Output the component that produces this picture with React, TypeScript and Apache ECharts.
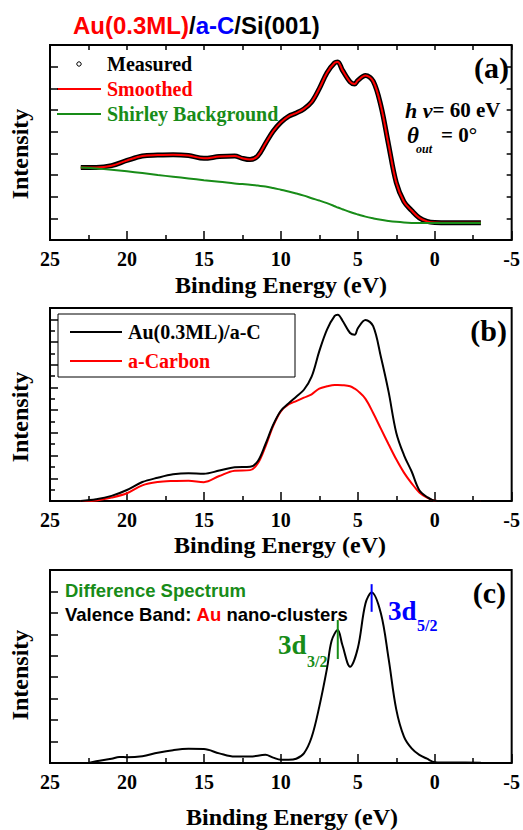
import React, { useEffect, useRef } from "react";
import * as echarts from "echarts";

// ---------- Panel (a): Au(0.3ML)/a-C valence band ----------
const energyA = [23, 22, 21, 20, 19, 18, 17, 16, 15, 14, 13, 12.5, 12, 11.5, 11, 10.5, 10, 9.5, 9, 8.5, 8, 7.5, 7, 6.5, 6.3, 6, 5.5, 5.2, 5, 4.5, 4, 3.5, 3, 2.5, 2, 1.5, 1, 0.5, 0, -1, -2, -3];
const measuredA = [3.35, 3.35, 3.43, 3.67, 3.88, 3.92, 3.94, 3.9, 3.77, 3.85, 3.88, 3.77, 3.71, 3.88, 4.45, 5.02, 5.43, 5.71, 5.86, 6.05, 6.37, 6.99, 7.72, 8.18, 8.22, 7.84, 7.3, 7.2, 7.36, 7.59, 7.33, 6.2, 4.4, 2.65, 1.77, 1.36, 1.02, 0.86, 0.81, 0.8, 0.8, 0.8];
const smoothedA = [3.35, 3.35, 3.43, 3.67, 3.88, 3.92, 3.94, 3.9, 3.77, 3.85, 3.88, 3.77, 3.71, 3.88, 4.45, 5.02, 5.43, 5.71, 5.86, 6.05, 6.37, 6.99, 7.72, 8.18, 8.22, 7.84, 7.3, 7.2, 7.36, 7.59, 7.33, 6.2, 4.4, 2.65, 1.77, 1.36, 1.02, 0.86, 0.81, 0.8, 0.8, 0.8];
const shirleyA = [3.35, 3.3, 3.24, 3.17, 3.09, 3.0, 2.92, 2.84, 2.76, 2.69, 2.61, 2.58, 2.55, 2.51, 2.47, 2.4, 2.32, 2.24, 2.15, 2.05, 1.93, 1.82, 1.7, 1.56, 1.5, 1.42, 1.29, 1.22, 1.18, 1.08, 1.0, 0.93, 0.88, 0.84, 0.81, 0.79, 0.78, 0.78, 0.78, 0.78, 0.78, 0.78];

// ---------- Panel (b): Au(0.3ML)/a-C vs a-Carbon ----------
const energyB = [23, 22, 21, 20, 19, 18, 17, 16, 15, 14, 13, 12, 11.5, 11, 10.5, 10, 9.5, 9, 8.5, 8, 7.5, 7, 6.5, 6.3, 6, 5.5, 5.2, 5, 4.5, 4, 3.5, 3, 2.5, 2, 1.5, 1, 0.5, 0, -1, -2, -3];
const auOnCarbonB = [0, 0.15, 0.45, 0.97, 1.67, 2.05, 2.35, 2.45, 2.4, 2.68, 2.98, 3.02, 3.5, 5.0, 6.7, 7.95, 8.6, 9.19, 9.8, 10.95, 13.2, 15.1, 16.3, 16.4, 15.9, 14.8, 14.65, 15.2, 15.95, 15.4, 12.7, 9.63, 6.02, 4.05, 2.6, 0.95, 0.35, 0.03, 0, 0, 0];
const aCarbonB = [0, 0.05, 0.3, 0.68, 1.38, 1.67, 1.76, 1.78, 1.66, 2.2, 2.67, 2.72, 3.3, 4.8, 6.6, 7.9, 8.5, 8.8, 9.1, 9.4, 9.9, 10.1, 10.22, 10.22, 10.2, 10.1, 9.9, 9.7, 9.0, 7.75, 6.37, 5.0, 3.67, 2.5, 1.56, 0.75, 0.3, 0.03, 0, 0, 0];

// ---------- Panel (c): difference spectrum ----------
const energyC = [22.5, 22, 21, 20.5, 20, 19, 18, 17, 16, 15, 14, 13, 12, 11, 10.5, 10, 9.5, 9, 8.5, 8, 7.5, 7, 6.7, 6.3, 6, 5.5, 5, 4.5, 4.1, 3.5, 3, 2.5, 2, 1.5, 1, 0.5, 0, -1, -2, -3];
const differenceC = [0, 0.08, 0.2, 0.28, 0.27, 0.32, 0.48, 0.6, 0.66, 0.65, 0.45, 0.3, 0.3, 0.38, 0.25, 0.15, 0.15, 0.2, 0.45, 1.2, 2.63, 4.41, 5.7, 6.2, 5.5, 4.49, 5.35, 7.44, 7.95, 6.98, 4.88, 2.5, 1.23, 0.68, 0.38, 0.2, 0.04, 0.02, 0.02, 0.01];
const peak32 = [[6.3, 4.85], [6.3, 6.67]];
const peak52 = [[4.1, 7.05], [4.1, 8.34]];

const xTicks = { min: -5, max: 25, interval: 5 };

const SERIF = '"Liberation Serif", "Times New Roman", serif';
const SANS = '"Liberation Sans", Arial, sans-serif';
const GREEN = "#188c18";
const RED = "#ff0000";
const BLUE = "#0000ff";

const zip = (xs: number[], ys: number[]) => xs.map((x, i) => [x, ys[i]]);

const txt = (text: string, x: number, y: number, font: string, fill: string, align = "left", extra: any = {}) => ({
  type: "text",
  x,
  y,
  silent: true,
  ...extra,
  style: { text, font, fill, align, textAlign: align, verticalAlign: "middle", textVerticalAlign: "middle" },
});

export default function App() {
  const ref = useRef<HTMLDivElement>(null);
  useEffect(() => {
    const chart = echarts.init(ref.current as HTMLDivElement, null, { renderer: "svg" });
    const gridBoxes = [
      { left: 50, top: 45, width: 462, height: 195 },
      { left: 50, top: 308, width: 462, height: 193 },
      { left: 50, top: 570, width: 462, height: 193 },
    ];
    const grid = gridBoxes.map((g) => ({ ...g, show: true, borderColor: "#000", borderWidth: 2, backgroundColor: "transparent" }));
    const tickStyle = { color: "#000", width: 1.5 };
    const xAxisBase = (gridIndex: number, extra: any = {}) => ({
      type: "value",
      gridIndex,
      ...xTicks,
      inverse: true,
      axisLine: { show: false, onZero: false },
      axisTick: { show: true, inside: true, length: 9, lineStyle: tickStyle },
      minorTick: { show: true, splitNumber: 2, length: 5, lineStyle: tickStyle },
      splitLine: { show: false },
      minorSplitLine: { show: false },
      axisLabel: {
        show: true,
        margin: 9,
        color: "#000",
        fontFamily: SERIF,
        fontWeight: "bold",
        fontSize: 20,
        showMinLabel: true,
        showMaxLabel: true,
      },
      ...extra,
    });
    const yAxisBase = (gridIndex: number, max: number, interval: number, extra: any = {}) => ({
      type: "value",
      gridIndex,
      min: 0,
      max,
      interval,
      axisLine: { show: false, onZero: false },
      axisLabel: { show: false },
      splitLine: { show: false },
      axisTick: { show: true, inside: true, length: 8, lineStyle: tickStyle },
      ...extra,
    });

    const lineSeries = (name: string, data: number[][], xi: number, yi: number, color: string, width: number, extra: any = {}) => ({
      name,
      type: "line",
      xAxisIndex: xi,
      yAxisIndex: yi,
      data,
      showSymbol: false,
      smooth: 0.35,
      lineStyle: { color, width },
      itemStyle: { color },
      silent: true,
      ...extra,
    });

    const serifB = (size: number) => `bold ${size}px ${SERIF}`;
    const titleFont = `bold 24px ${SANS}`;
    const graphic: any[] = [
      // title
      {
        type: "text",
        x: 73,
        y: 25,
        silent: true,
        style: {
          text: "{r|Au(0.3ML)}{k|/}{b|a-C}{k|/Si(001)}",
          font: titleFont,
          verticalAlign: "middle",
          textVerticalAlign: "middle",
          rich: {
            r: { fill: RED, font: titleFont },
            k: { fill: "#000", font: titleFont },
            b: { fill: BLUE, font: titleFont },
          },
        },
      },
      // Intensity labels
      txt("Intensity", 20, 154, serifB(24), "#000", "center", { rotation: Math.PI / 2 }),
      txt("Intensity", 20, 417, serifB(24), "#000", "center", { rotation: Math.PI / 2 }),
      txt("Intensity", 20, 675, serifB(24), "#000", "center", { rotation: Math.PI / 2 }),
      // axis titles
      txt("Binding Energy (eV)", 281, 285, serifB(24), "#000", "center"),
      txt("Binding Energy (eV)", 280, 545, serifB(24), "#000", "center"),
      txt("Binding Energy (eV)", 292, 817, serifB(24), "#000", "center"),
      // panel labels
      txt("(a)", 509, 67, serifB(30), "#000", "right"),
      txt("(b)", 507, 330, serifB(30), "#000", "right"),
      txt("(c)", 506, 592, serifB(30), "#000", "right"),
      // panel (a) legend
      { type: "circle", silent: true, shape: { cx: 79, cy: 64, r: 2.2 }, style: { fill: "#fff", stroke: "#000", lineWidth: 1 } },
      txt("Measured", 107, 64, serifB(20), "#000"),
      { type: "line", silent: true, shape: { x1: 57, y1: 89, x2: 101, y2: 89 }, style: { stroke: RED, lineWidth: 2 } },
      txt("Smoothed", 107, 89, serifB(20), RED),
      { type: "line", silent: true, shape: { x1: 57, y1: 114, x2: 101, y2: 114 }, style: { stroke: GREEN, lineWidth: 2 } },
      txt("Shirley Background", 107, 114, serifB(20), GREEN),
      // photon energy / angle
      {
        type: "text",
        x: 405,
        y: 110,
        silent: true,
        style: {
          text: "{i|h ν}{n|= 60 eV}",
          font: serifB(21),
          verticalAlign: "middle",
          textVerticalAlign: "middle",
          rich: {
            i: { fill: "#000", font: `italic bold 22px ${SERIF}` },
            n: { fill: "#000", font: serifB(21) },
          },
        },
      },
      txt("θ", 407, 135, `italic bold 23px ${SERIF}`, "#000"),
      txt("out", 416, 149, `italic bold 12px ${SERIF}`, "#000"),
      txt("= 0°", 441, 135, serifB(21), "#000"),
      // panel (b) legend
      { type: "rect", silent: true, shape: { x: 58, y: 314, width: 237, height: 63 }, style: { fill: "#fff", stroke: "#000", lineWidth: 1 } },
      { type: "line", silent: true, shape: { x1: 70, y1: 332, x2: 122, y2: 332 }, style: { stroke: "#000", lineWidth: 2 } },
      txt("Au(0.3ML)/a-C", 128, 332, serifB(20), "#000"),
      { type: "line", silent: true, shape: { x1: 70, y1: 361, x2: 122, y2: 361 }, style: { stroke: RED, lineWidth: 2 } },
      txt("a-Carbon", 128, 361, serifB(20), RED),
      // panel (c) texts
      txt("Difference Spectrum", 65, 590, `bold 18.5px ${SANS}`, GREEN),
      {
        type: "text",
        x: 65,
        y: 614,
        silent: true,
        style: {
          text: "{k|Valence Band: }{r|Au}{k| nano-clusters}",
          font: `bold 18.5px ${SANS}`,
          verticalAlign: "middle",
          textVerticalAlign: "middle",
          rich: {
            k: { fill: "#000", font: `bold 18.5px ${SANS}` },
            r: { fill: RED, font: `bold 18.5px ${SANS}` },
          },
        },
      },
      txt("3d", 278, 645, serifB(27), GREEN),
      txt("3/2", 307, 661, serifB(16), GREEN),
      txt("3d", 388, 611, serifB(27), BLUE),
      txt("5/2", 417, 625, serifB(16), BLUE),
    ];

    chart.setOption({
      animation: false,
      backgroundColor: "#fff",
      grid,
      xAxis: [
        xAxisBase(0),
        xAxisBase(0, { position: "top", axisLabel: { show: false }, axisTick: { show: true, inside: true, length: 5, lineStyle: tickStyle } }),
        xAxisBase(1),
        xAxisBase(2),
      ],
      yAxis: [
        yAxisBase(0, 9, 1),
        yAxisBase(0, 9, 1, { position: "right", axisTick: { show: true, inside: true, length: 5, lineStyle: tickStyle } }),
        yAxisBase(1, 17, 2, { minorTick: { show: true, splitNumber: 2, length: 5, lineStyle: tickStyle } }),
        yAxisBase(2, 9, 1),
      ],
      series: [
        lineSeries("Measured", zip(energyA, measuredA), 0, 0, "#000", 5),
        lineSeries("Smoothed", zip(energyA, smoothedA), 0, 0, RED, 2),
        lineSeries("Shirley Background", zip(energyA, shirleyA), 0, 0, GREEN, 2),
        lineSeries("a-Carbon", zip(energyB, aCarbonB), 2, 2, RED, 2),
        lineSeries("Au(0.3ML)/a-C", zip(energyB, auOnCarbonB), 2, 2, "#000", 2),
        lineSeries("Difference Spectrum", zip(energyC, differenceC), 3, 3, "#000", 2),
        lineSeries("3d3/2", peak32, 3, 3, GREEN, 2, { smooth: false }),
        lineSeries("3d5/2", peak52, 3, 3, BLUE, 2, { smooth: false }),
      ],
      graphic,
    });
    return () => chart.dispose();
  }, []);
  return <div ref={ref} style={{ position: "absolute", left: 0, top: 0, width: 523, height: 830 }} />;
}
